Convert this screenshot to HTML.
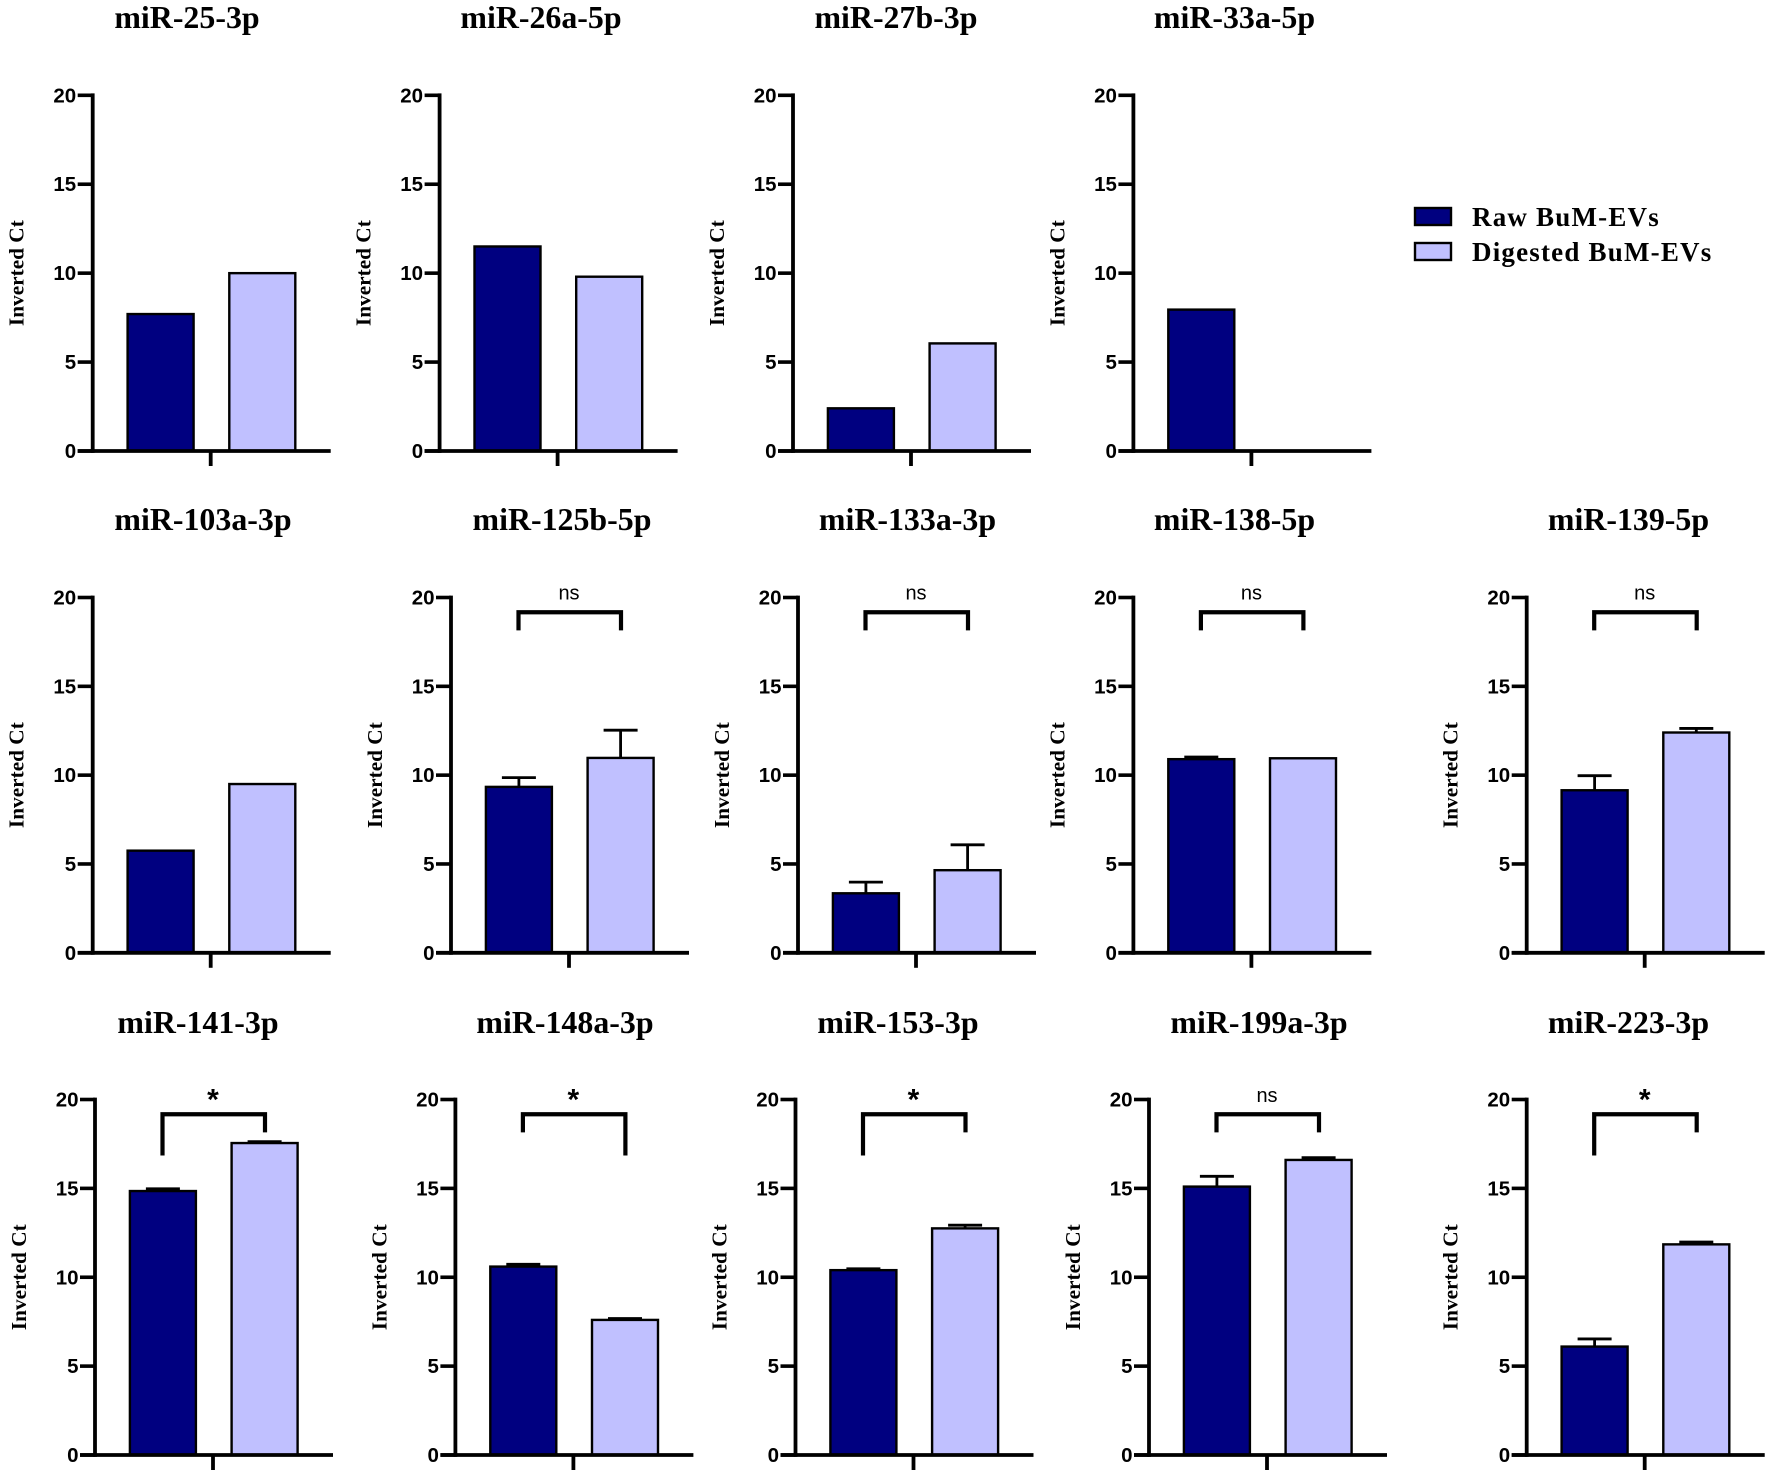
<!DOCTYPE html>
<html lang="en">
<head>
<meta charset="utf-8">
<title>Inverted Ct by miRNA: Raw and Digested BuM-EVs</title>
<style>
html,body{margin:0;padding:0;background:#fff;}
svg{display:block;}
.title{font:bold 31.9px "Liberation Serif",serif;text-anchor:middle;}
.ylab{font:bold 21.3px "Liberation Serif",serif;text-anchor:middle;}
.tick{font:bold 20.5px "Liberation Sans",sans-serif;text-anchor:end;}
.ns{font:20px "Liberation Sans",sans-serif;text-anchor:middle;}
.star{font:bold 30px "Liberation Sans",sans-serif;text-anchor:middle;}
.leg{font:bold 27px "Liberation Serif",serif;letter-spacing:1.2px;}
</style>
</head>
<body>
<svg id="figure" xmlns="http://www.w3.org/2000/svg" width="1772" height="1477" viewBox="0 0 1772 1477">
  <rect width="1772" height="1477" fill="#ffffff"/>
  <g>
    <g>
      <rect x="1415" y="208" width="36" height="17" fill="#000080" stroke="#000" stroke-width="2.4"/>
      <text class="leg" x="1472" y="226">Raw BuM-EVs</text>
    </g>
    <g>
      <rect x="1415" y="243" width="36" height="17" fill="#c0c0ff" stroke="#000" stroke-width="2.4"/>
      <text class="leg" x="1472" y="261">Digested BuM-EVs</text>
    </g>
  </g>
</svg>
<script>
// Chart data
const categories = ['miR-25-3p','miR-26a-5p','miR-27b-3p','miR-33a-5p','miR-103a-3p','miR-125b-5p','miR-133a-3p','miR-138-5p','miR-139-5p','miR-141-3p','miR-148a-3p','miR-153-3p','miR-199a-3p','miR-223-3p'];
const rawValues = [7.7,11.5,2.4,7.95,5.75,9.34,3.35,10.9,9.15,14.85,10.6,10.4,15.1,6.1];
const digestedValues = [10,9.8,6.05,0,9.5,10.97,4.65,10.95,12.4,17.55,7.6,12.75,16.6,11.85];
const rawErrors = [0,0,0,0,0,0.52,0.63,0.12,0.82,0.13,0.13,0.08,0.58,0.43];
const digestedErrors = [0,0,0,0,0,1.56,1.43,0,0.23,0.08,0.08,0.18,0.13,0.13];
const significance = ['','','','','','ns','ns','ns','ns','*','*','*','ns','*'];
const bracketTop = [0,0,0,0,0,19.17,19.17,19.17,19.17,19.17,19.17,19.17,19.17,19.17];
const bracketLeftEnd = [0,0,0,0,0,18.15,18.15,18.15,18.15,16.85,18.15,16.85,18.15,16.85];
const bracketRightEnd = [0,0,0,0,0,18.15,18.15,18.15,18.15,18.15,16.85,18.15,18.15,18.15];
const yTicks = [0,5,10,15,20];
const yTickLabels = ['0','5','10','15','20'];
const yAxisTitle = 'Inverted Ct';

// Layout (not data)
const panelLayout = [
  {ax:92.7,row:0,tx:187},{ax:439.6,row:0,tx:541},{ax:793,row:0,tx:896},{ax:1133.4,row:0,tx:1234.5},
  {ax:92.7,row:1,tx:203},{ax:451,row:1,tx:562},{ax:798,row:1,tx:907.5},{ax:1133.4,row:1,tx:1234.5},{ax:1526.7,row:1,tx:1628.5},
  {ax:95,row:2,tx:198},{ax:455.4,row:2,tx:565},{ax:795.5,row:2,tx:898},{ax:1149,row:2,tx:1259},{ax:1526.7,row:2,tx:1628.5}
];
const rowGeometry = [
  {top:95.3,bottom:451,titleY:28},
  {top:597.5,bottom:952.8,titleY:530},
  {top:1099.5,bottom:1455,titleY:1033}
];
const maxY = 20;
const svg = document.getElementById('figure');
const NS = 'http://www.w3.org/2000/svg';

function make(parent, tag, attrs, text) {
  const node = document.createElementNS(NS, tag);
  for (const k in attrs) node.setAttribute(k, attrs[k]);
  if (text !== undefined) node.textContent = text;
  parent.appendChild(node);
  return node;
}

categories.forEach(function (name, i) {
  const layout = panelLayout[i];
  const geo = rowGeometry[layout.row];
  const ax = layout.ax;
  const yScale = function (v) { return geo.bottom - (v / maxY) * (geo.bottom - geo.top); };
  const slug = name.toLowerCase();

  const panel = make(svg, 'g', {});
  
  

  const title = make(panel, 'text', {'class':'title', x:layout.tx, y:geo.titleY}, name);
  
  

  const ylab = make(panel, 'text', {'class':'ylab', transform:'translate(' + (ax - 69) + ',' + ((geo.top + geo.bottom) / 2) + ') rotate(-90)'}, yAxisTitle);
  
  

  const bars = [
    {v:rawValues[i], e:rawErrors[i], fill:'#000080', x0:ax + 34.9, key:'raw'},
    {v:digestedValues[i], e:digestedErrors[i], fill:'#c0c0ff', x0:ax + 136.6, key:'digested'}
  ];
  const barW = 66;
  bars.forEach(function (b) {
    const cx = b.x0 + barW / 2;
    if (b.e > 0) {
      const err = make(panel, 'g', {});
      
      
      make(err, 'line', {x1:cx, y1:yScale(b.v), x2:cx, y2:yScale(b.v + b.e), stroke:'#000', 'stroke-width':2.8});
      make(err, 'line', {x1:cx - 17, y1:yScale(b.v + b.e), x2:cx + 17, y2:yScale(b.v + b.e), stroke:'#000', 'stroke-width':2.8});
    }
    const rect = make(panel, 'rect', {x:b.x0, y:yScale(b.v), width:barW, height:yScale(0) - yScale(b.v), fill:b.fill, stroke:'#000', 'stroke-width':2.4});
    
    
  });

  const yAxis = make(panel, 'g', {});
  
  
  make(yAxis, 'line', {x1:ax, y1:yScale(maxY) - 1.9, x2:ax, y2:yScale(0) + 1.9, stroke:'#000', 'stroke-width':3.8});
  yTicks.forEach(function (t, k) {
    const y = yScale(t);
    make(yAxis, 'line', {x1:ax - 15, y1:y, x2:ax, y2:y, stroke:'#000', 'stroke-width':3.6});
    const lab = make(yAxis, 'text', {'class':'tick', x:ax - 16.5, y:y + 7}, yTickLabels[k]);
    
    
  });

  const xAxis = make(panel, 'g', {});
  
  
  make(xAxis, 'line', {x1:ax - 15, y1:yScale(0), x2:ax + 238, y2:yScale(0), stroke:'#000', 'stroke-width':3.8});
  make(xAxis, 'line', {x1:ax + 118, y1:yScale(0), x2:ax + 118, y2:yScale(0) + 15, stroke:'#000', 'stroke-width':3.8});

  if (significance[i]) {
    const br = make(panel, 'g', {});
    
    
    const xl = ax + 67.5, xr = ax + 170, yt = yScale(bracketTop[i]);
    make(br, 'path', {d:'M' + xl + ' ' + yScale(bracketLeftEnd[i]) + ' L' + xl + ' ' + yt + ' L' + xr + ' ' + yt + ' L' + xr + ' ' + yScale(bracketRightEnd[i]), fill:'none', stroke:'#000', 'stroke-width':4.2});
    const isStar = significance[i] === '*';
    const mark = make(panel, 'text', {'class':isStar ? 'star' : 'ns', x:ax + 118, y:isStar ? yt - 5 : yt - 12.5}, significance[i]);
    
    
  }
});
</script>
</body>
</html>
